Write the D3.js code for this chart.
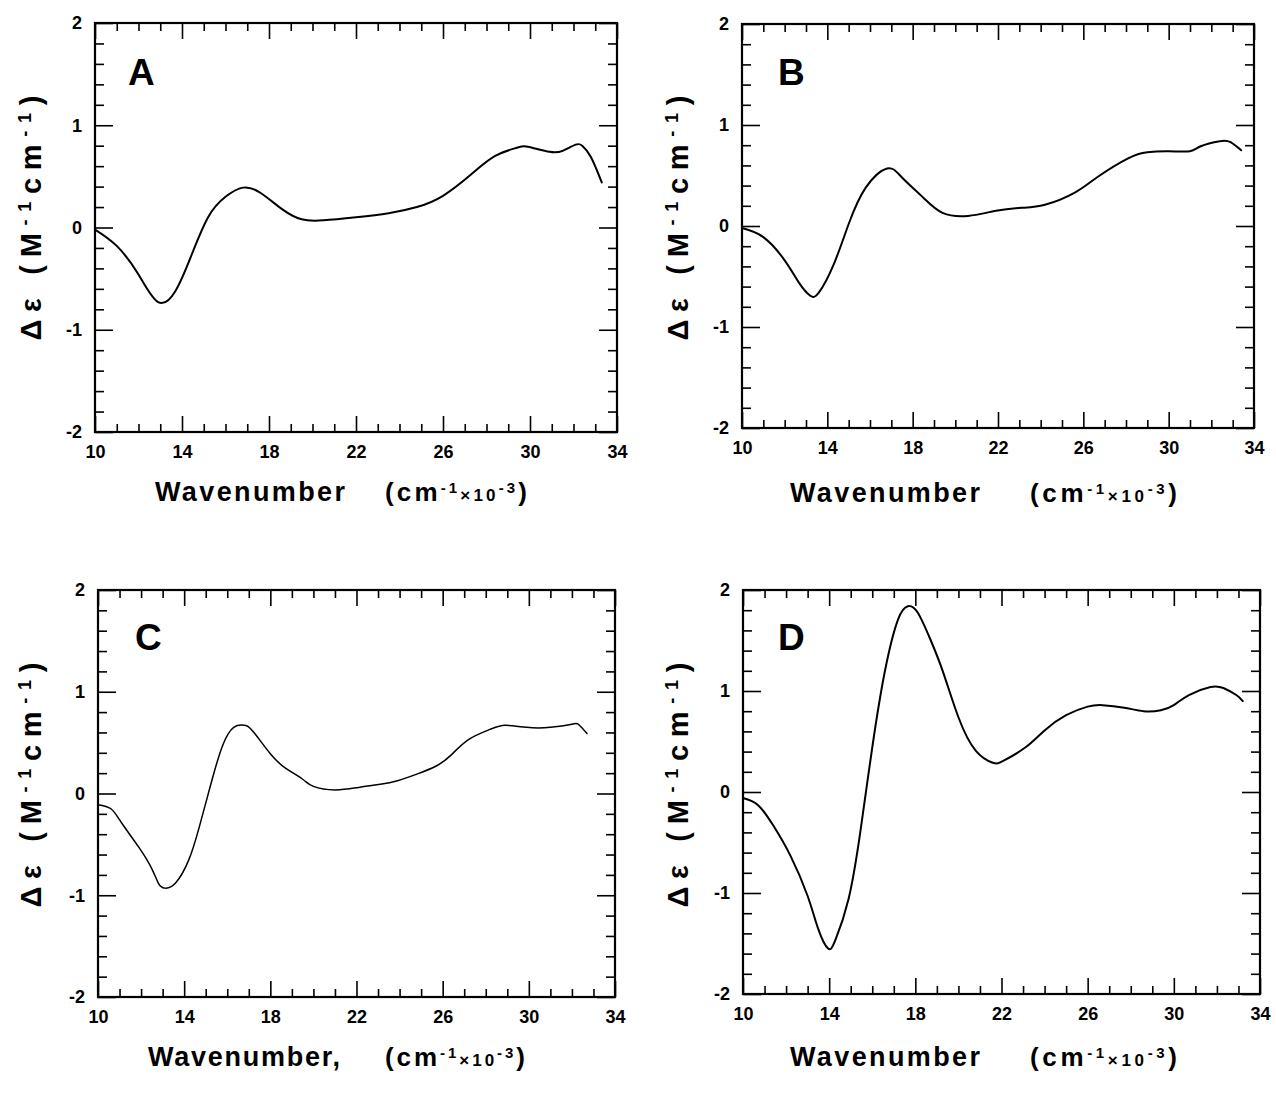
<!DOCTYPE html>
<html>
<head>
<meta charset="utf-8">
<script src="https://cdn.jsdelivr.net/npm/d3@7"></script>
<style>
  html, body { margin: 0; padding: 0; background: #fff; }
  svg { display: block; }
  text { font-family: "Liberation Sans", Arial, Helvetica, sans-serif; font-weight: bold; fill: #000; }
</style>
</head>
<body>
<script>
// ---------------- data ----------------
const panelLetters = ["A", "B", "C", "D"];
const xTicks = [10, 14, 18, 22, 26, 30, 34];
const xTickLabels = ["10", "14", "18", "22", "26", "30", "34"];
const yTicks = [-2, -1, 0, 1, 2];
const yTickLabels = ["-2", "-1", "0", "1", "2"];
const xTitleWords = ["Wavenumber", "Wavenumber", "Wavenumber,", "Wavenumber"];

const waveA = [10, 11, 12, 12.9, 13.7, 14.4, 15.2, 16, 16.8, 17.6, 18.6, 19.5, 20.5, 22, 23.5, 24.8, 26, 27.3, 28.4, 29.4, 29.9, 30.9, 31.5, 32.1, 32.4, 32.8, 33.3];
const epsA  = [-0.02, -0.18, -0.46, -0.73, -0.62, -0.29, 0.10, 0.30, 0.39, 0.34, 0.18, 0.08, 0.07, 0.10, 0.14, 0.20, 0.31, 0.52, 0.70, 0.78, 0.79, 0.74, 0.75, 0.81, 0.80, 0.69, 0.44];

const waveB = [10, 11, 12, 12.7, 13.2, 13.6, 14.3, 15, 15.8, 16.8, 17.5, 18.5, 19.4, 20.6, 21.9, 23.1, 24.2, 25.6, 26.7, 28.1, 29, 30, 31, 31.5, 32.4, 32.9, 33.4];
const epsB  = [-0.02, -0.11, -0.34, -0.57, -0.69, -0.66, -0.38, 0.02, 0.38, 0.57, 0.48, 0.28, 0.13, 0.10, 0.15, 0.18, 0.21, 0.33, 0.49, 0.67, 0.73, 0.74, 0.74, 0.79, 0.84, 0.83, 0.75];

const waveC = [10, 10.6, 11.1, 11.9, 12.5, 12.8, 13.1, 13.6, 14.2, 14.7, 15.3, 15.8, 16.3, 16.8, 17.2, 18, 18.7, 19.5, 20, 21, 22.1, 23.1, 23.9, 24.8, 25.7, 26.4, 27.2, 28.2, 28.9, 29.9, 31, 32, 32.3, 32.7];
const epsC  = [-0.11, -0.15, -0.29, -0.53, -0.74, -0.88, -0.93, -0.88, -0.66, -0.33, 0.14, 0.48, 0.65, 0.67, 0.61, 0.39, 0.25, 0.14, 0.07, 0.035, 0.06, 0.09, 0.125, 0.19, 0.27, 0.38, 0.53, 0.63, 0.67, 0.65, 0.65, 0.68, 0.68, 0.59];

const waveD = [10, 10.7, 11.4, 12.2, 13, 13.5, 13.95, 14.3, 14.9, 15.45, 16, 16.6, 17.2, 17.65, 18.1, 18.7, 19.3, 20, 20.8, 21.6, 22.1, 23.1, 24, 25, 26, 26.7, 27.7, 28.6, 29.4, 30, 30.7, 31.7, 32.3, 32.9, 33.2];
const epsD  = [-0.06, -0.13, -0.33, -0.63, -1.03, -1.36, -1.55, -1.46, -1.06, -0.39, 0.44, 1.21, 1.71, 1.84, 1.78, 1.51, 1.18, 0.74, 0.41, 0.29, 0.31, 0.44, 0.61, 0.76, 0.845, 0.86, 0.835, 0.80, 0.81, 0.86, 0.96, 1.04, 1.03, 0.96, 0.90];

const seriesX = [waveA, waveB, waveC, waveD];
const seriesY = [epsA, epsB, epsC, epsD];

// ---------------- layout ----------------
const W = 1276, H = 1095;
const layout = [
  { x0: 95,  x1: 617,  y0: 23,  y1: 432, ylabX: 41,  ylabY: 218, letX: 128, letY: 85,
    t1: [155, 190], t2: [385, 142], tY: 501, lw: 2 },
  { x0: 742, x1: 1254, y0: 24,  y1: 428, ylabX: 688, ylabY: 218, letX: 778, letY: 85,
    t1: [790, 190], t2: [1030, 147], tY: 502, lw: 2 },
  { x0: 98,  x1: 615,  y0: 590, y1: 997, ylabX: 41,  ylabY: 785, letX: 135, letY: 650,
    t1: [148, 192], t2: [385, 140], tY: 1066, lw: 1.5 },
  { x0: 743, x1: 1260, y0: 590, y1: 994, ylabX: 688, ylabY: 785, letX: 778, letY: 650,
    t1: [790, 190], t2: [1030, 147], tY: 1066, lw: 2 }
];

const svg = d3.select("body").append("svg").attr("width", W).attr("height", H);
svg.append("rect").attr("width", W).attr("height", H).attr("fill", "#fff");

const minorX = d3.range(10, 34.5, 1).filter(v => !xTicks.includes(v));
const minorY = d3.range(-2, 2.01, 0.2).map(v => Math.round(v * 10) / 10).filter(v => !yTicks.includes(v));

function styleAxis(g) {
  g.select(".domain").remove();
  g.selectAll(".tick line").attr("stroke", "#000").attr("stroke-width", 1.6);
  g.selectAll(".tick text").style("font-size", "18px").style("font-weight", "bold")
    .style("font-family", '"Liberation Sans", Arial, sans-serif').attr("fill", "#000");
}

layout.forEach((L, i) => {
  const x = d3.scaleLinear().domain([10, 34]).range([L.x0, L.x1]);
  const y = d3.scaleLinear().domain([-2, 2]).range([L.y1, L.y0]);
  const g = svg.append("g");

  const xFmt = d => xTickLabels[xTicks.indexOf(d)];
  const yFmt = d => yTickLabels[yTicks.indexOf(d)];

  g.append("g").attr("transform", `translate(0,${L.y1})`)
    .call(d3.axisBottom(x).tickValues(xTicks).tickSize(-16).tickSizeOuter(0).tickPadding(13).tickFormat(xFmt))
    .call(styleAxis);
  g.append("g").attr("transform", `translate(0,${L.y1})`)
    .call(d3.axisBottom(x).tickValues(minorX).tickSize(-8).tickSizeOuter(0).tickFormat(""))
    .call(styleAxis);
  g.append("g").attr("transform", `translate(0,${L.y0})`)
    .call(d3.axisTop(x).tickValues(xTicks).tickSize(-16).tickSizeOuter(0).tickFormat(""))
    .call(styleAxis);
  g.append("g").attr("transform", `translate(0,${L.y0})`)
    .call(d3.axisTop(x).tickValues(minorX).tickSize(-8).tickSizeOuter(0).tickFormat(""))
    .call(styleAxis);
  g.append("g").attr("transform", `translate(${L.x0},0)`)
    .call(d3.axisLeft(y).tickValues(yTicks).tickSize(-18).tickSizeOuter(0).tickPadding(13).tickFormat(yFmt))
    .call(styleAxis);
  g.append("g").attr("transform", `translate(${L.x0},0)`)
    .call(d3.axisLeft(y).tickValues(minorY).tickSize(-9).tickSizeOuter(0).tickFormat(""))
    .call(styleAxis);
  g.append("g").attr("transform", `translate(${L.x1},0)`)
    .call(d3.axisRight(y).tickValues(yTicks).tickSize(-18).tickSizeOuter(0).tickFormat(""))
    .call(styleAxis);
  g.append("g").attr("transform", `translate(${L.x1},0)`)
    .call(d3.axisRight(y).tickValues(minorY).tickSize(-9).tickSizeOuter(0).tickFormat(""))
    .call(styleAxis);

  g.append("rect").attr("x", L.x0).attr("y", L.y0)
    .attr("width", L.x1 - L.x0).attr("height", L.y1 - L.y0)
    .attr("fill", "none").attr("stroke", "#000").attr("stroke-width", 2.2);

  const pts = seriesX[i].map((v, k) => [v, seriesY[i][k]]);
  const line = d3.line().x(d => x(d[0])).y(d => y(d[1])).curve(d3.curveNatural);
  g.append("path").datum(pts).attr("d", line)
    .attr("fill", "none").attr("stroke", "#000").attr("stroke-width", L.lw)
    .attr("stroke-linejoin", "round").attr("stroke-linecap", "round");

  g.append("text").attr("x", L.letX).attr("y", L.letY)
    .style("font-size", "37px").text(panelLetters[i]);

  const yt = g.append("text")
    .attr("transform", `translate(${L.ylabX},${L.ylabY}) rotate(-90)`)
    .attr("text-anchor", "middle")
    .attr("textLength", 245).attr("lengthAdjust", "spacing")
    .style("font-size", "29px");
  yt.append("tspan").text("Δε (M");
  yt.append("tspan").attr("baseline-shift", "super").style("font-size", "18px").text("-1");
  yt.append("tspan").text("cm");
  yt.append("tspan").attr("baseline-shift", "super").style("font-size", "18px").text("-1");
  yt.append("tspan").text(")");

  g.append("text").attr("x", L.t1[0]).attr("y", L.tY)
    .attr("textLength", L.t1[1]).attr("lengthAdjust", "spacing")
    .style("font-size", "27px").text(xTitleWords[i]);
  const xt = g.append("text").attr("x", L.t2[0]).attr("y", L.tY)
    .attr("textLength", L.t2[1]).attr("lengthAdjust", "spacing")
    .style("font-size", "26px");
  xt.append("tspan").text("(cm");
  xt.append("tspan").attr("baseline-shift", "super").style("font-size", "15px").text("-1");
  xt.append("tspan").style("font-size", "17px").text("×10");
  xt.append("tspan").attr("baseline-shift", "super").style("font-size", "15px").text("-3");
  xt.append("tspan").text(")");
});
</script>
</body>
</html>
